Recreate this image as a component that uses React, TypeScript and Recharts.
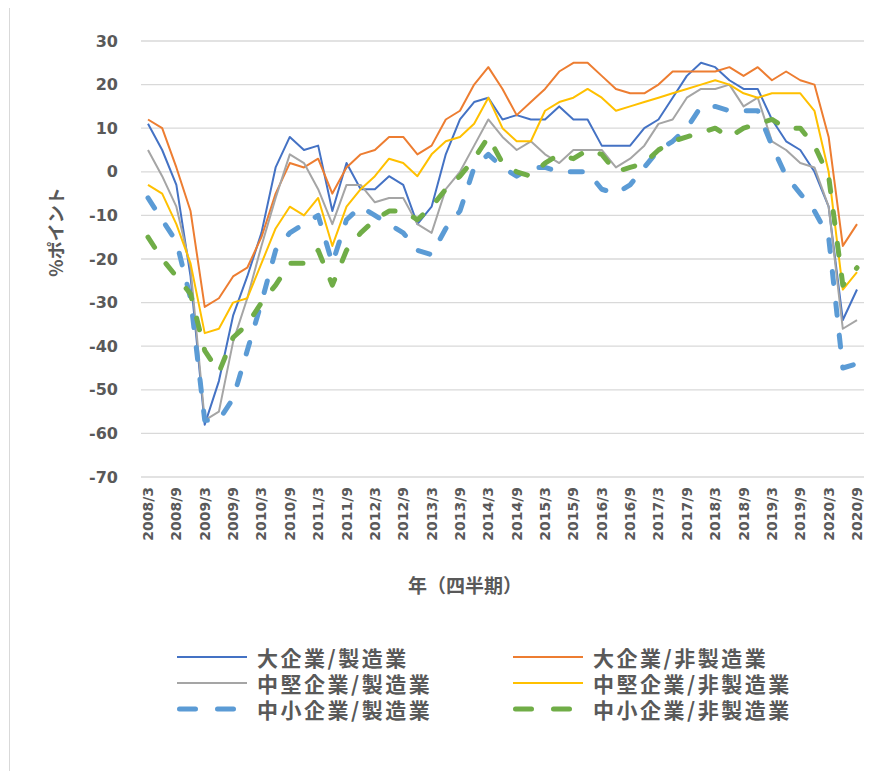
import React from "react";
import { LineChart, Line, XAxis, YAxis, CartesianGrid } from "recharts";

// quarterly labels 2008/3 .. 2020/9
const quarters = [
  "2008/3", "2008/6", "2008/9", "2008/12",
  "2009/3", "2009/6", "2009/9", "2009/12",
  "2010/3", "2010/6", "2010/9", "2010/12",
  "2011/3", "2011/6", "2011/9", "2011/12",
  "2012/3", "2012/6", "2012/9", "2012/12",
  "2013/3", "2013/6", "2013/9", "2013/12",
  "2014/3", "2014/6", "2014/9", "2014/12",
  "2015/3", "2015/6", "2015/9", "2015/12",
  "2016/3", "2016/6", "2016/9", "2016/12",
  "2017/3", "2017/6", "2017/9", "2017/12",
  "2018/3", "2018/6", "2018/9", "2018/12",
  "2019/3", "2019/6", "2019/9", "2019/12",
  "2020/3", "2020/6", "2020/9",
];

const largeMfg = [
  11, 5, -3, -24, -58, -48, -33, -24, -14, 1, 8, 5, 6, -9, 2, -4, -4, -1, -3, -12,
  -8, 4, 12, 16, 17, 12, 13, 12, 12, 15, 12, 12, 6, 6, 6, 10, 12, 17, 22, 25,
  24, 21, 19, 19, 12, 7, 5, 0, -8, -34, -27,
];
const largeNonMfg = [
  12, 10, 1, -9, -31, -29, -24, -22, -15, -5, 2, 1, 3, -5, 1, 4, 5, 8, 8, 4,
  6, 12, 14, 20, 24, 19, 13, 16, 19, 23, 25, 25, 22, 19, 18, 18, 20, 23, 23, 23,
  23, 24, 22, 24, 21, 23, 21, 20, 8, -17, -12,
];
const midMfg = [
  5, -1, -8, -22, -57, -55, -39, -29, -17, -6, 4, 2, -4, -12, -3, -3, -7, -6, -6, -12,
  -14, -4, 0, 6, 12, 8, 5, 7, 4, 2, 5, 5, 5, 1, 3, 6, 11, 12, 17, 19,
  19, 20, 15, 17, 7, 5, 2, 1, -8, -36, -34,
];
const midNonMfg = [
  -3, -5, -12, -21, -37, -36, -30, -29, -21, -13, -8, -10, -6, -17, -8, -4, -1, 3, 2, -1,
  4, 7, 8, 11, 17, 10, 7, 7, 14, 16, 17, 19, 17, 14, 15, 16, 17, 18, 19, 20,
  21, 20, 18, 17, 18, 18, 18, 14, 0, -27, -23,
];
const smallMfg = [
  -6, -11, -16, -29, -57, -57, -52, -41, -30, -18, -14, -12, -10, -21, -11, -8, -10, -12, -14, -18,
  -19, -13, -9, 1, 4, 1, -1, 1, 1, 0, 0, 0, -4, -5, -3, 1, 5, 7, 10, 15,
  15, 14, 14, 14, 6, -1, -5, -9, -15, -45, -44,
];
const smallNonMfg = [
  -15, -20, -24, -28, -41, -46, -38, -35, -30, -26, -21, -21, -18, -26, -18, -14, -11, -9, -9, -11,
  -8, -4, -1, 3, 8, 2, 0, -1, 2, 4, 3, 5, 4, 0, 1, 2, 5, 7, 8, 9,
  10, 8, 10, 11, 12, 10, 10, 6, -1, -26, -22,
];

const yTicks = [-70, -60, -50, -40, -30, -20, -10, 0, 10, 20, 30];

const series = [
  { key: "lm", name: "大企業/製造業", color: "#4472C4", dashed: false },
  { key: "ln", name: "大企業/非製造業", color: "#ED7D31", dashed: false },
  { key: "mm", name: "中堅企業/製造業", color: "#A5A5A5", dashed: false },
  { key: "mn", name: "中堅企業/非製造業", color: "#FFC000", dashed: false },
  { key: "sm", name: "中小企業/製造業", color: "#5B9BD5", dashed: true },
  { key: "sn", name: "中小企業/非製造業", color: "#70AD47", dashed: true },
];

const data = quarters.map((q, i) => ({
  q,
  lm: largeMfg[i],
  ln: largeNonMfg[i],
  mm: midMfg[i],
  mn: midNonMfg[i],
  sm: smallMfg[i],
  sn: smallNonMfg[i],
}));

const TEXT = "#595959";
const DASH = "12 20";

const XTick = (props: any) => {
  const { x, y, payload } = props;
  return (
    <text
      transform={`translate(${x},${y + 10}) rotate(-90)`}
      textAnchor="end"
      dominantBaseline="central"
      fill={TEXT}
      fontSize={14}
      fontWeight="bold"
      fontFamily="DejaVu Sans"
    >
      {payload.value}
    </text>
  );
};

// legend entry: 70px sample line + label
const LegendItem = ({ s, left, top }: any) => (
  <div style={{ position: "absolute", left, top, height: 26, display: "flex", alignItems: "center" }}>
    <svg width={70} height={26} style={{ display: "block" }}>
      <line
        x1={s.dashed ? 2.5 : 0}
        x2={s.dashed ? 60 : 70}
        y1={13}
        y2={13}
        stroke={s.color}
        strokeWidth={s.dashed ? 5 : 2}
        strokeDasharray={s.dashed ? "16 22" : undefined}
        strokeLinecap={s.dashed ? "round" : "butt"}
      />
    </svg>
    <span
      style={{
        marginLeft: 10,
        fontFamily: "'Noto Sans CJK JP'",
        fontWeight: "bold",
        fontSize: 21,
        lineHeight: "26px",
        letterSpacing: 2.5,
        color: TEXT,
        whiteSpace: "nowrap",
      }}
    >
      {s.name}
    </span>
  </div>
);

export default function App() {
  return (
    <div style={{ position: "relative", width: 877, height: 763, background: "#fff" }}>
      <div style={{ position: "absolute", left: 1, top: -8, width: 1, height: 771, background: "#d9d9d9" }} />
      <LineChart width={877} height={559} data={data} margin={{ top: 33, right: 21, left: 0, bottom: 0 }}>
        <CartesianGrid vertical={false} stroke="#d9d9d9" strokeWidth={1.3} />
        <XAxis
          dataKey="q"
          interval={1}
          padding={{ left: 7, right: 7 }}
          height={90}
          axisLine={false}
          tickLine={false}
          tickSize={0}
          tickMargin={0}
          tick={<XTick />}
        />
        <YAxis
          domain={[-70, 30]}
          ticks={yTicks}
          width={133}
          axisLine={false}
          tickLine={false}
          tickSize={0}
          tickMargin={23}
          tick={{ fill: TEXT, fontSize: 16, fontWeight: "bold", fontFamily: "DejaVu Sans" }}
        />
        {series.map((s) => (
          <Line
            key={s.key}
            type="linear"
            dataKey={s.key}
            name={s.name}
            stroke={s.color}
            strokeWidth={s.dashed ? 5 : 2}
            strokeDasharray={s.dashed ? DASH : undefined}
            strokeLinecap={s.dashed ? "round" : "butt"}
            strokeLinejoin="round"
            dot={false}
            activeDot={false}
            isAnimationActive={false}
          />
        ))}
      </LineChart>
      <div
        style={{
          position: "absolute",
          left: 47,
          top: 224,
          transform: "translate(-50%, -50%) rotate(-90deg)",
          fontFamily: "'Noto Sans CJK JP'",
          fontWeight: "bold",
          fontSize: 18,
          lineHeight: "20px",
          color: TEXT,
          whiteSpace: "nowrap",
        }}
      >
        %ポイント
      </div>
      <div
        style={{
          position: "absolute",
          left: 457,
          top: 577,
          transform: "translate(-50%, -50%)",
          fontFamily: "'Noto Sans CJK JP'",
          fontWeight: "bold",
          fontSize: 19,
          lineHeight: "22px",
          color: TEXT,
          whiteSpace: "nowrap",
        }}
      >
        年（四半期）
      </div>
      <LegendItem s={series[0]} left={169} top={636} />
      <LegendItem s={series[1]} left={505} top={636} />
      <LegendItem s={series[2]} left={169} top={662} />
      <LegendItem s={series[3]} left={505} top={662} />
      <LegendItem s={series[4]} left={169} top={688} />
      <LegendItem s={series[5]} left={505} top={688} />
    </div>
  );
}
